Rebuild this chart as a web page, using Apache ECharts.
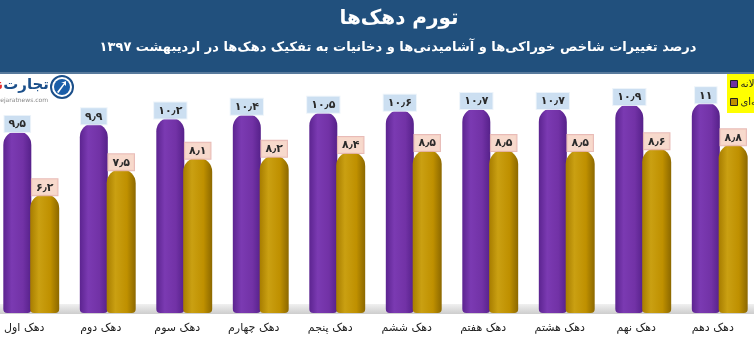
<!DOCTYPE html>
<html>
<head>
<meta charset="utf-8">
<script src="https://cdn.jsdelivr.net/npm/echarts@6/dist/echarts.min.js"></script>
<style>html,body{margin:0;padding:0;background:#fff}#c{width:754px;height:340px}</style>
</head>
<body>
<div id="c"></div>
<script>
var categories = ['دهک اول','دهک دوم','دهک سوم','دهک چهارم','دهک پنجم','دهک ششم','دهک هفتم','دهک هشتم','دهک نهم','دهک دهم'];
var annualValues = [9.5, 9.9, 10.2, 10.4, 10.5, 10.6, 10.7, 10.7, 10.9, 11];
var pointValues = [6.2, 7.5, 8.1, 8.2, 8.4, 8.5, 8.5, 8.5, 8.6, 8.8];
var seriesNames = ['سالانه', 'نقطه‌ای'];
var titleText = 'تورم دهک‌ها';
var subtitleText = 'درصد تغییرات شاخص خوراکی‌ها و آشامیدنی‌ها و دخانیات به تفکیک دهک‌ها در اردیبهشت ۱۳۹۷';

var FONT = "'DejaVu Sans', sans-serif";
function fa(v) {
  return String(v).replace(/\d/g, function (d) { return '۰۱۲۳۴۵۶۷۸۹'[+d]; }).replace('.', '٫');
}

var chart = echarts.init(document.getElementById('c'), null, {renderer: 'canvas'});

var purpleGrad = new echarts.graphic.LinearGradient(0, 0, 1, 0, [
  {offset: 0, color: '#5c2490'}, {offset: 0.3, color: '#7b3ab2'},
  {offset: 0.7, color: '#7232a6'}, {offset: 1, color: '#56218a'}
]);
var goldGrad = new echarts.graphic.LinearGradient(0, 0, 1, 0, [
  {offset: 0, color: '#a77d00'}, {offset: 0.3, color: '#caa012'},
  {offset: 0.7, color: '#bf9000'}, {offset: 1, color: '#8c6800'}
]);

chart.setOption({
  animation: false,
  backgroundColor: '#ffffff',
  textStyle: {fontFamily: FONT},
  graphic: [
    {type: 'rect', left: 0, top: 0, z: 0, shape: {width: 754, height: 72}, style: {fill: '#21507d'}},
    {type: 'rect', left: 0, top: 72, z: 0, shape: {width: 754, height: 2}, style: {fill: '#587a9c'}},
    {type: 'text', x: 399, y: 19, z: 5, style: {text: titleText, fill: '#ffffff', font: "bold 20px 'DejaVu Sans'", textAlign: 'center', textVerticalAlign: 'middle'}},
    {type: 'text', x: 398, y: 48, z: 5, style: {text: subtitleText, fill: '#ffffff', font: "bold 13px 'DejaVu Sans'", textAlign: 'center', textVerticalAlign: 'middle'}},
    {type: 'rect', left: 0, top: 304, z: 0, shape: {width: 754, height: 10},
      style: {fill: new echarts.graphic.LinearGradient(0, 0, 0, 1, [{offset: 0, color: '#f0f0f0'}, {offset: 1, color: '#cdcdcd'}])}},
    {type: 'circle', z: 5, shape: {cx: 62, cy: 87, r: 11}, style: {fill: '#ffffff', stroke: '#1b4f8a', lineWidth: 2}},
    {type: 'circle', z: 6, shape: {cx: 62, cy: 87, r: 8}, style: {fill: '#1b5ea8'}},
    {type: 'polygon', z: 7, shape: {points: [[57, 92], [64, 83], [61, 83], [66, 81], [66, 86], [64.5, 84.5], [58.5, 93]]}, style: {fill: '#ffffff'}},
    {type: 'text', x: 49, y: 85, z: 5, style: {text: '{r|نیوز}{b|تجارت}', textAlign: 'right', textVerticalAlign: 'middle',
      rich: {r: {fill: '#e53030', font: "bold 15px 'DejaVu Sans'"}, b: {fill: '#1b4f8a', font: "bold 15px 'DejaVu Sans'"}}}},
    {type: 'text', x: 48, y: 100, z: 5, style: {text: 'tejaratnews.com', fill: '#888888', font: "6px 'DejaVu Sans'", textAlign: 'right', textVerticalAlign: 'middle'}}
  ],
  legend: {
    orient: 'vertical',
    left: 727,
    top: 74,
    align: 'left',
    backgroundColor: '#ffff00',
    padding: [5, 4, 6, 3],
    itemGap: 8,
    itemWidth: 7,
    itemHeight: 7,
    icon: 'rect',
    textStyle: {fontFamily: FONT, fontSize: 10, color: '#222', padding: [0, 0, 0, -2]},
    data: [
      {name: seriesNames[0], itemStyle: {color: '#7030a0', borderColor: '#222', borderWidth: 1}},
      {name: seriesNames[1], itemStyle: {color: '#bf9000', borderColor: '#222', borderWidth: 1}}
    ]
  },
  grid: {left: -7, width: 765, top: 83, bottom: 27, containLabel: false, outerBoundsMode: 'none'},
  xAxis: {
    type: 'category',
    data: categories,
    axisLine: {show: false},
    axisTick: {show: false},
    axisLabel: {fontFamily: FONT, fontSize: 11, color: '#222', margin: 10, padding: [0, 14, 0, 0], interval: 0}
  },
  yAxis: {type: 'value', min: 0, max: 12, show: false, splitLine: {show: false}},
  series: [
    {
      name: seriesNames[0], type: 'bar', data: annualValues, barWidth: 28, barGap: '-4%', z: 3,
      itemStyle: {color: purpleGrad, borderRadius: [14, 14, 4, 4]},
      label: {
        show: true, position: 'top', distance: -1, formatter: function (p) { return fa(p.value); },
        fontFamily: FONT, fontSize: 11, fontWeight: 'bold', color: '#2a2a2a',
        backgroundColor: 'rgba(198,220,240,0.9)', borderColor: 'rgba(235,243,250,0.9)', borderWidth: 1,
        padding: [3, 4, 2, 4]
      }
    },
    {
      name: seriesNames[1], type: 'bar', data: pointValues, barWidth: 29, z: 4,
      itemStyle: {color: goldGrad, borderRadius: [14, 14, 4, 4]},
      label: {
        show: true, position: 'top', distance: -1, formatter: function (p) { return fa(p.value); },
        fontFamily: FONT, fontSize: 11, fontWeight: 'bold', color: '#2a2a2a',
        backgroundColor: 'rgba(246,214,200,0.92)', borderColor: 'rgba(230,180,175,0.9)', borderWidth: 1,
        padding: [3, 4, 2, 4]
      }
    }
  ]
});
</script>
</body>
</html>
